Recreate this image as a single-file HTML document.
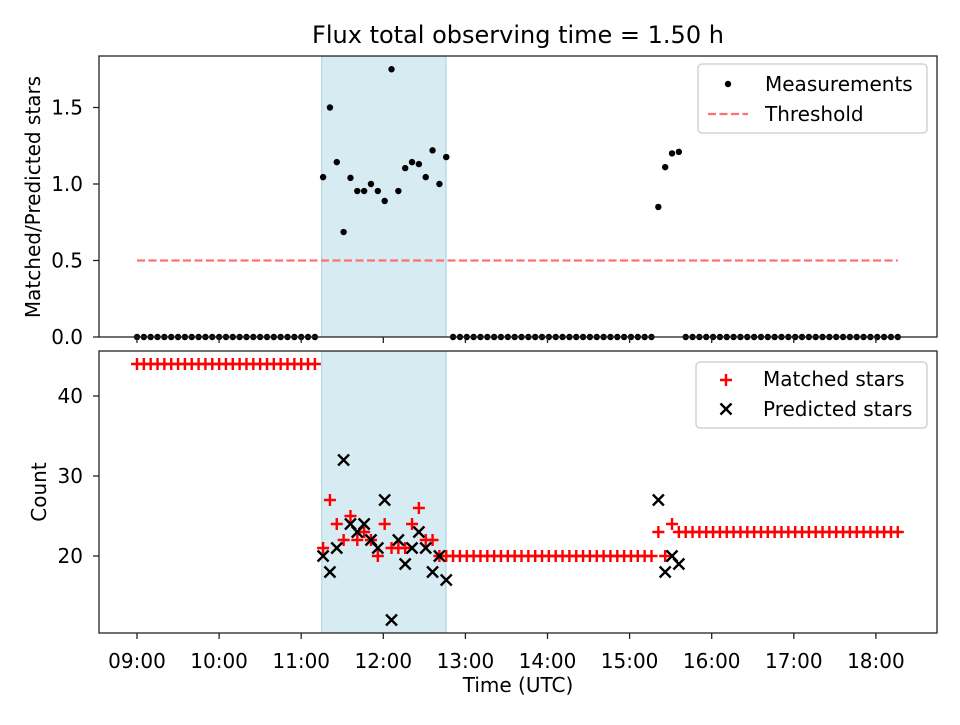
<!DOCTYPE html>
<html><head><meta charset="utf-8"><style>
body{margin:0;background:#fff;}
svg text{font-family:"DejaVu Sans","Liberation Sans",sans-serif;fill:#000;}
</style></head><body>
<svg id="chart" width="960" height="720" xmlns="http://www.w3.org/2000/svg"></svg>
<script>
// data (times in minutes after 00:00)
const ratioTimes = [676,681,686,691,696,701,706,711,716,721,726,731,736,741,746,751,756,761,766,921,926,931,936];
const ratioValues = [1.045,1.5,1.143,0.686,1.04,0.954,0.954,1.0,0.954,0.889,1.75,0.954,1.104,1.143,1.13,1.045,1.22,1.0,1.176,0.85,1.11,1.2,1.21];
const matchedValues = [21,27,24,22,25,22,23,22,20,24,21,21,21,24,26,22,22,20,20,23,20,24,23];
const predictedValues = [20,18,21,32,24,23,24,22,21,27,12,22,19,21,23,21,18,20,17,27,18,20,19];
const zeroSeg1 = [540,670,44];   // start, end, matched count
const zeroSeg2 = [771,916,20];
const zeroSeg3 = [941,1096,23];
const shadeRange = [675,765.8];
const thresholdValue = 0.5;
const xTickLabels = ["09:00","10:00","11:00","12:00","13:00","14:00","15:00","16:00","17:00","18:00"];
const topYTicks = [0.0,0.5,1.0,1.5];
const botYTicks = [20,30,40];

const svg=document.getElementById('chart');
const NS='http://www.w3.org/2000/svg';
function el(t,a,p){const e=document.createElementNS(NS,t);for(const k in a)e.setAttribute(k,a[k]);(p||svg).appendChild(e);return e;}
const X0=99,X1=937;
const FS=20;
const xs=m=>137+(m-540)*82.1/60;
const T={y0:56,y1:337}, B={y0:351,y1:633};
const yt=v=>337-v*153;
const yb=v=>556-(v-20)*8;

const zTimes=[];
[zeroSeg1,zeroSeg2,zeroSeg3].forEach(s=>{for(let t=s[0];t<=s[1];t+=5)zTimes.push([t,s[2]]);});

[[T],[B]].forEach(([ax],i)=>{
 const r=el('rect',{x:xs(shadeRange[0]),y:ax.y0,width:xs(shadeRange[1])-xs(shadeRange[0]),height:ax.y1-ax.y0,fill:'#add8e6','fill-opacity':0.5,stroke:'#a8cfdd'});
 
 
});

const allT=zTimes.map(z=>z[0]).concat(ratioTimes);
const tmin=Math.min(...allT),tmax=Math.max(...allT);
const th=el('line',{x1:xs(tmin),x2:xs(tmax),y1:yt(thresholdValue),y2:yt(thresholdValue),stroke:'#ff7070','stroke-width':2.2,'stroke-dasharray':'8,3.5'});



zTimes.forEach(z=>{const c=el('circle',{cx:xs(z[0]),cy:yt(0),r:3.2,fill:'#000'});
 
 });
ratioTimes.forEach((t,i)=>{const c=el('circle',{cx:xs(t),cy:yt(ratioValues[i]),r:3.2,fill:'#000'});
 
 });

function plus(x,y,name){const g=el('path',{d:`M${x-6},${y}h12M${x},${y-6}v12`,stroke:'#f00','stroke-width':2.4});
 
 }
function cross(x,y,name){const g=el('path',{d:`M${x-5.5},${y-5.5}l11,11M${x-5.5},${y+5.5}l11,-11`,stroke:'#000','stroke-width':2.4});
 
 }
zTimes.forEach(z=>plus(xs(z[0]),yb(z[1]),'matched-star-point'));
ratioTimes.forEach((t,i)=>plus(xs(t),yb(matchedValues[i]),'matched-star-point'));
ratioTimes.forEach((t,i)=>cross(xs(t),yb(predictedValues[i]),'predicted-star-point'));

[[T,'top-axes-frame'],[B,'bottom-axes-frame']].forEach(([ax,n])=>{
 const r=el('rect',{x:X0,y:ax.y0,width:X1-X0,height:ax.y1-ax.y0,fill:'none',stroke:'#222','stroke-width':1.3});
 
 
});
xTickLabels.forEach((l,i)=>{const x=xs(540+60*i);
 el('line',{x1:x,x2:x,y1:T.y1,y2:T.y1+6,stroke:'#222','stroke-width':1.3});
 el('line',{x1:x,x2:x,y1:B.y1,y2:B.y1+6,stroke:'#222','stroke-width':1.3});
 const t=el('text',{x:x,y:B.y1+35,'text-anchor':'middle','font-size':FS});t.textContent=l;
 
 
});
topYTicks.forEach(v=>{const y=yt(v);el('line',{x1:X0-6,x2:X0,y1:y,y2:y,stroke:'#222','stroke-width':1.3});
 const t=el('text',{x:X0-16,y:y+7,'text-anchor':'end','font-size':FS});t.textContent=v.toFixed(1);
 
 });
botYTicks.forEach(v=>{const y=yb(v);el('line',{x1:X0-6,x2:X0,y1:y,y2:y,stroke:'#222','stroke-width':1.3});
 const t=el('text',{x:X0-16,y:y+7,'text-anchor':'end','font-size':FS});t.textContent=v;
 
 });

function txt(s,a,name){const t=el('text',a);t.textContent=s;
 
 return t;}
txt('Flux total observing time = 1.50 h',{x:518,y:43,'text-anchor':'middle','font-size':24},'chart-title');
txt('Time (UTC)',{x:518,y:692,'text-anchor':'middle','font-size':FS},'x-axis-title');
txt('Matched/Predicted stars',{x:0,y:0,'text-anchor':'middle','font-size':FS,transform:'translate(40,197) rotate(-90)'},'top-y-axis-title');
txt('Count',{x:0,y:0,'text-anchor':'middle','font-size':FS,transform:'translate(46,492) rotate(-90)'},'bottom-y-axis-title');

const lg1=el('rect',{x:698,y:64,width:229,height:69,rx:4,fill:'#fff','fill-opacity':0.8,stroke:'#ccc','stroke-width':1.3});


el('circle',{cx:728,cy:84,r:3.2,fill:'#000'});
txt('Measurements',{x:765,y:91,'font-size':FS},'legend-entry-measurements');
el('line',{x1:708,x2:748,y1:114,y2:114,stroke:'#ff7070','stroke-width':2.2,'stroke-dasharray':'8,3.5'});
txt('Threshold',{x:765,y:121,'font-size':FS},'legend-entry-threshold');
const lg2=el('rect',{x:696,y:362,width:231,height:66,rx:4,fill:'#fff','fill-opacity':0.8,stroke:'#ccc','stroke-width':1.3});


plus(726,380,'legend-marker-matched');
txt('Matched stars',{x:763,y:386,'font-size':FS},'legend-entry-matched');
cross(726,409,'legend-marker-predicted');
txt('Predicted stars',{x:763,y:416,'font-size':FS},'legend-entry-predicted');
</script>
</body></html>
